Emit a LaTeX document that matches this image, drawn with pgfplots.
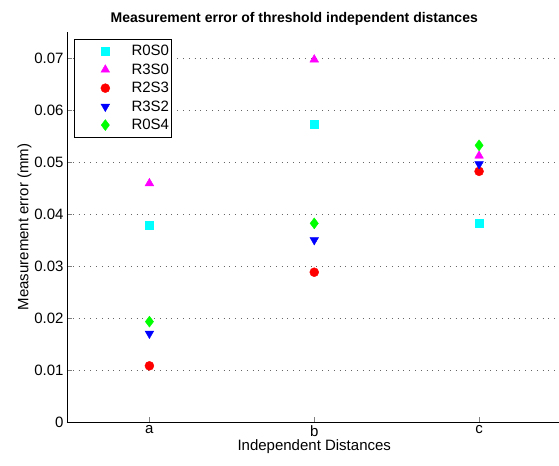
\documentclass[border=0pt]{standalone}
\usepackage{pgfplots}
\pgfplotsset{compat=1.18}
\usepackage{fontspec}
\setmainfont{Liberation Sans}

\begin{document}
\begin{tikzpicture}

\definecolor{mcyan}{RGB}{0,255,255}
\definecolor{mmagenta}{RGB}{255,0,255}
\definecolor{mred}{RGB}{255,0,0}
\definecolor{mblue}{RGB}{0,0,255}
\definecolor{mgreen}{RGB}{0,255,0}

\begin{axis}[
name=main,
scale only axis,
width=494.5pt, height=390pt,
font=\fontsize{15}{17}\selectfont,
tick label style={font=\fontsize{15}{17}\selectfont},
/pgf/number format/assume math mode=true,
scaled y ticks=false,
axis x line*=bottom,
axis y line*=left,
tick align=inside,
xmin=0.5, xmax=3.5,
ymin=0, ymax=0.075,
xtick={1,2,3},
xticklabels={a,b,c},
ytick={0,0.01,0.02,0.03,0.04,0.05,0.06,0.07},
yticklabels={0,0.01,0.02,0.03,0.04,0.05,0.06,0.07},
ymajorgrids,
y grid style={black!60, line width=0.8pt, dash pattern=on 0.8pt off 5pt},
major tick length=5pt,
xlabel={Independent Distances},
ylabel={Measurement error (mm)},
xlabel style={yshift=4pt},
ylabel style={yshift=-4pt},
title={\fontsize{14}{16}\selectfont\bfseries Measurement error of threshold independent distances},
title style={yshift=-3pt, xshift=-20pt},
legend cell align={left},
legend style={
  at={(0.014,0.982)},
  anchor=north west,
  draw=black,
  font=\fontsize{15}{17}\selectfont,
  row sep=2.5pt,
  inner xsep=0pt,
  inner ysep=4pt,
  legend image code/.code={
    \path (0pt,0pt) (55pt,0pt);
    \draw[mark repeat=2,mark phase=2] plot coordinates {(23pt,0pt) (31pt,0pt) (39pt,0pt)};
  }
},
]
\addplot [only marks, mcyan, mark=square*, mark size=4pt]
coordinates {(1,0.0378) (2,0.0572) (3,0.0382)};
\addlegendentry{R0S0}
\addplot [only marks, mmagenta, mark=triangle*, mark size=5pt]
coordinates {(1,0.0459) (2,0.0697) (3,0.0512)};
\addlegendentry{R3S0}
\addplot [only marks, mred, mark=*, mark size=4.5pt]
coordinates {(1,0.0108) (2,0.0288) (3,0.0482)};
\addlegendentry{R2S3}
\addplot [only marks, mblue, mark=triangle*, mark size=5pt, mark options={rotate=180}]
coordinates {(1,0.0170) (2,0.0350) (3,0.0496)};
\addlegendentry{R3S2}
\addplot [only marks, mgreen, mark=diamond*, mark size=5.5pt]
coordinates {(1,0.0193) (2,0.0382) (3,0.0532)};
\addlegendentry{R0S4}
\end{axis}
\pgfresetboundingbox
\useasboundingbox ([shift={(-67pt,-44pt)}]main.south west) rectangle ([shift={(492pt,32pt)}]main.south west |- main.north west);

\end{tikzpicture}
\end{document}
